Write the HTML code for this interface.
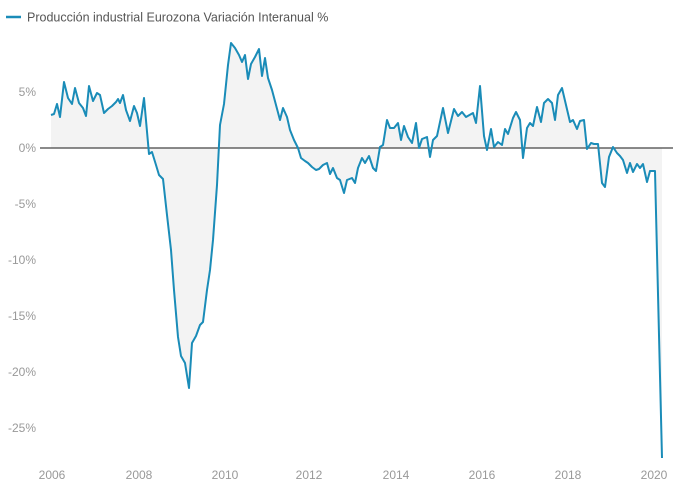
<!DOCTYPE html>
<html><head><meta charset="utf-8"><style>
body{margin:0;background:#fff;width:680px;height:486px;overflow:hidden}
text{font-family:"Liberation Sans",sans-serif}
</style></head><body>
<svg width="680" height="486" xmlns="http://www.w3.org/2000/svg">
<line x1="6" y1="17" x2="21" y2="17" stroke="#1a8cb8" stroke-width="2.5"/>
<text x="27" y="21.5" font-size="12.5" fill="#555">Producción industrial Eurozona Variación Interanual %</text>
<g font-size="12" fill="#999" text-anchor="end">
<text x="36" y="96">5%</text><text x="36" y="152">0%</text><text x="36" y="208">-5%</text>
<text x="36" y="264">-10%</text><text x="36" y="320">-15%</text><text x="36" y="376">-20%</text><text x="36" y="432">-25%</text>
</g>
<g font-size="12" fill="#999" text-anchor="middle">
<text x="52" y="479">2006</text><text x="139" y="479">2008</text><text x="225" y="479">2010</text><text x="309" y="479">2012</text>
<text x="396" y="479">2014</text><text x="482" y="479">2016</text><text x="568" y="479">2018</text><text x="654" y="479">2020</text>
</g>
<polygon fill="#f3f3f3" points="51,148 51,115 54,114 57,104 60,117 64,82 68,98 72,104 75,88 79,103 83,108 86,116 89,86 93,101 97,93 100,95 104,113 108,109 112,106 116,102 118,99 120,103 123,95 126,110 130,121 134,106 137,113 140,126 144,98 149,154 152,152 156,165 159,175 163,179 167,215 171,250 174,290 178,337 181,356 185,363 189,388 192,343 196,336 200,325 203,322 207,290 210,270 213,240 217,185 220,125 224,104 228,65 231,43 235,48 239,55 242,62 245,55 248,79 251,64 255,57 259,49 262,76 265,58 268,78 272,90 276,105 280,120 283,108 287,117 290,130 294,140 298,148 301,158 305,161 308,163 312,167 316,170 319,169 323,165 327,163 330,174 333,168 337,178 340,180 344,193 347,180 352,178 355,183 358,168 362,158 365,163 369,156 373,168 376,171 380,147 383,145 387,120 390,128 394,128 398,123 401,140 404,126 408,137 412,143 416,123 419,148 422,139 427,137 430,157 433,140 437,136 443,108 448,133 454,109 458,116 462,112 466,117 473,113 476,123 480,86 484,136 487,150 491,129 494,147 498,142 502,145 505,129 508,134 513,118 516,112 520,120 523,158 527,128 530,123 533,126 537,107 541,122 544,103 548,99 552,103 555,120 558,95 562,88 570,122 573,120 577,129 580,121 584,120 587,149 591,143 594,144 598,144 602,183 605,187 609,157 613,147 617,153 620,156 623,160 627,173 630,163 633,172 637,164 640,168 643,164 647,182 650,171 655,171 662,458 662,148"/>
<line x1="40" y1="148" x2="673" y2="148" stroke="#444" stroke-width="1.3"/>
<polyline fill="none" stroke="#1a8cb8" stroke-width="2" stroke-linejoin="round" points="51,115 54,114 57,104 60,117 64,82 68,98 72,104 75,88 79,103 83,108 86,116 89,86 93,101 97,93 100,95 104,113 108,109 112,106 116,102 118,99 120,103 123,95 126,110 130,121 134,106 137,113 140,126 144,98 149,154 152,152 156,165 159,175 163,179 167,215 171,250 174,290 178,337 181,356 185,363 189,388 192,343 196,336 200,325 203,322 207,290 210,270 213,240 217,185 220,125 224,104 228,65 231,43 235,48 239,55 242,62 245,55 248,79 251,64 255,57 259,49 262,76 265,58 268,78 272,90 276,105 280,120 283,108 287,117 290,130 294,140 298,148 301,158 305,161 308,163 312,167 316,170 319,169 323,165 327,163 330,174 333,168 337,178 340,180 344,193 347,180 352,178 355,183 358,168 362,158 365,163 369,156 373,168 376,171 380,147 383,145 387,120 390,128 394,128 398,123 401,140 404,126 408,137 412,143 416,123 419,148 422,139 427,137 430,157 433,140 437,136 443,108 448,133 454,109 458,116 462,112 466,117 473,113 476,123 480,86 484,136 487,150 491,129 494,147 498,142 502,145 505,129 508,134 513,118 516,112 520,120 523,158 527,128 530,123 533,126 537,107 541,122 544,103 548,99 552,103 555,120 558,95 562,88 570,122 573,120 577,129 580,121 584,120 587,149 591,143 594,144 598,144 602,183 605,187 609,157 613,147 617,153 620,156 623,160 627,173 630,163 633,172 637,164 640,168 643,164 647,182 650,171 655,171 662,458"/>
</svg>
</body></html>
